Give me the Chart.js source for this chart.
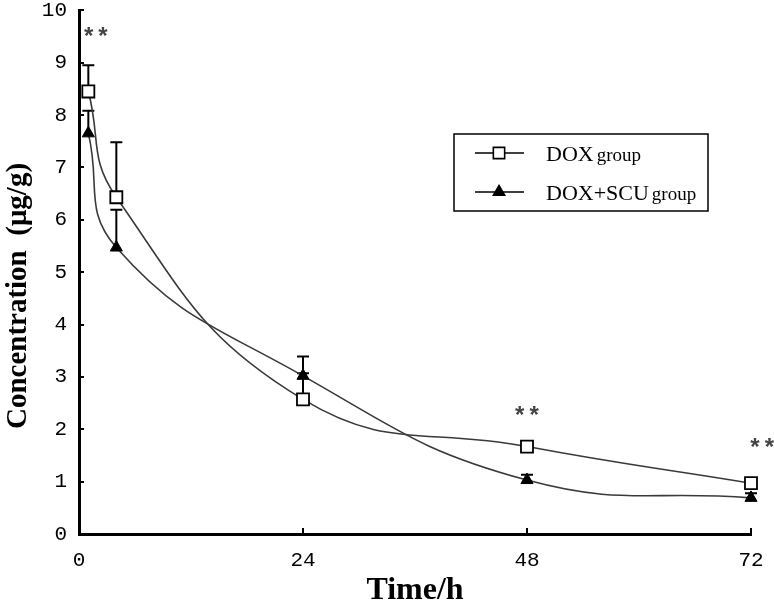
<!DOCTYPE html>
<html>
<head>
<meta charset="utf-8">
<script src="https://cdn.jsdelivr.net/npm/chart.js@4.4.1/dist/chart.umd.min.js"></script>
<style>
  html, body { margin: 0; padding: 0; background: #fff; }
  #wrap { width: 774px; height: 607px; }
</style>
</head>
<body>
<div id="wrap"><canvas id="chart" width="774" height="607"></canvas></div>
<script>
// sampling times (h)
const hours = [1, 4, 24, 48, 72];
// DOX group
const doxMean = [8.45, 6.43, 2.57, 1.67, 0.97];
const doxSD = [0.5, 1.05, 0.5, 0.08, 0.08];
// DOX+SCU group
const scuMean = [7.65, 5.47, 3.02, 1.03, 0.69];
const scuSD = [0.43, 0.72, 0.37, 0.1, 0.09];
// significance marks
const starX = [1.8, 48, 73.2];
const starY = [9.6, 2.35, 1.75];

const xTicks = [0, 24, 48, 72];
const yTicks = [0, 1, 2, 3, 4, 5, 6, 7, 8, 9, 10];
const yTitle = "Concentration  (μg/g)";

const toPoints = (xs, ys) => xs.map((x, i) => ({ x, y: ys[i] }));

const errorBars = {
  id: "errorBars",
  beforeDatasetsDraw(chart) {
    const { ctx, scales: { x, y } } = chart;
    const sets = [doxSD, scuSD];
    ctx.save();
    ctx.strokeStyle = "#000";
    ctx.lineWidth = 2;
    chart.data.datasets.forEach((ds, di) => {
      ds.data.forEach((p, i) => {
        const sd = sets[di][i];
        const px = x.getPixelForValue(p.x);
        const y0 = y.getPixelForValue(p.y);
        const y1 = y.getPixelForValue(p.y + sd);
        ctx.beginPath();
        ctx.moveTo(px, y0);
        ctx.lineTo(px, y1);
        ctx.moveTo(px - 6, y1);
        ctx.lineTo(px + 6, y1);
        ctx.stroke();
      });
    });
    ctx.restore();
  }
};

const extras = {
  id: "extras",
  afterDraw(chart) {
    const { ctx, scales: { x, y } } = chart;
    ctx.save();
    // inward tick marks
    ctx.strokeStyle = "#000";
    ctx.lineWidth = 2;
    yTicks.slice(1).forEach(v => {
      const py = Math.round(y.getPixelForValue(v));
      ctx.beginPath();
      ctx.moveTo(x.left, py);
      ctx.lineTo(x.left + 5, py);
      ctx.stroke();
    });
    xTicks.slice(1).forEach(v => {
      const px = Math.round(x.getPixelForValue(v));
      ctx.beginPath();
      ctx.moveTo(px, y.bottom);
      ctx.lineTo(px, y.bottom - 6);
      ctx.stroke();
    });

    // y axis title (sits a little below the middle in the original)
    ctx.save();
    ctx.translate(19, 296);
    ctx.rotate(-Math.PI / 2);
    ctx.fillStyle = "#000";
    ctx.font = "bold 29px 'Liberation Serif'";
    ctx.textAlign = "center";
    ctx.textBaseline = "middle";
    ctx.fillText(yTitle, 0, 0);
    ctx.restore();

    // ** marks
    ctx.fillStyle = "#444";
    ctx.font = "bold 24px 'Liberation Mono'";
    ctx.textAlign = "center";
    ctx.textBaseline = "alphabetic";
    starX.forEach((sx, i) => {
      const m = ctx.measureText("**");
      const px = x.getPixelForValue(sx);
      const py = y.getPixelForValue(starY[i]);
      const off = (m.actualBoundingBoxAscent - m.actualBoundingBoxDescent) / 2;
      ctx.fillText("**", px, py + off);
    });

    // legend
    const bx = 454, by = 134, bw = 254, bh = 77;
    ctx.strokeStyle = "#000";
    ctx.lineWidth = 1.5;
    ctx.strokeRect(bx, by, bw, bh);
    const rows = [153, 192];
    chart.data.datasets.forEach((ds, i) => {
      const ry = rows[i];
      ctx.strokeStyle = "#000";
      ctx.lineWidth = 1.5;
      ctx.beginPath();
      ctx.moveTo(475, ry);
      ctx.lineTo(524, ry);
      ctx.stroke();
      ctx.fillStyle = ds.pointBackgroundColor;
      ctx.strokeStyle = "#000";
      ctx.lineWidth = 1.6;
      Chart.helpers.drawPoint(ctx, {
        pointStyle: ds.pointStyle,
        radius: i === 0 ? 8 : 6.5,
        rotation: 0,
        borderWidth: 1.6
      }, 499, ry);
      ctx.fillStyle = "#000";
      ctx.textAlign = "left";
      ctx.textBaseline = "alphabetic";
      const parts = ds.label.split(" ");
      ctx.font = "22px 'Liberation Serif'";
      ctx.fillText(parts[0], 546, ry + 8);
      const w = ctx.measureText(parts[0]).width;
      ctx.font = "19px 'Liberation Serif'";
      ctx.fillText(parts[1], 546 + w + 3, ry + 8);
    });
    ctx.restore();
  }
};

new Chart(document.getElementById("chart"), {
  type: "line",
  data: {
    datasets: [
      {
        label: "DOX group",
        data: toPoints(hours, doxMean),
        clip: false,
        borderColor: "#3a3a3a",
        borderWidth: 1.6,
        tension: 0.45,
        pointStyle: "rect",
        pointRadius: 8.5,
        pointBorderWidth: 1.8,
        pointBorderColor: "#000",
        pointBackgroundColor: "#fff"
      },
      {
        label: "DOX+SCU group",
        data: toPoints(hours, scuMean),
        clip: false,
        borderColor: "#3a3a3a",
        borderWidth: 1.6,
        tension: 0.45,
        pointStyle: "triangle",
        pointRadius: 7,
        pointBorderWidth: 1,
        pointBorderColor: "#000",
        pointBackgroundColor: "#000"
      }
    ]
  },
  options: {
    responsive: false,
    animation: false,
    events: [],
    layout: { padding: { top: 10, right: 23, left: 0, bottom: 0 } },
    plugins: { legend: { display: false }, tooltip: { enabled: false } },
    scales: {
      x: {
        type: "linear",
        min: 0,
        max: 72,
        afterBuildTicks: s => { s.ticks = xTicks.map(v => ({ value: v })); },
        afterFit: s => {
          s.height = 73;
          s.paddingLeft = 0;
          s.paddingRight = 0;
        },
        grid: { display: false, drawTicks: false },
        border: { color: "#000", width: 3 },
        ticks: {
          color: "#000",
          padding: 14,
          font: { family: "Liberation Mono", size: 21 }
        },
        title: {
          display: true,
          text: "Time/h",
          color: "#000",
          padding: { top: 0, bottom: 0 },
          font: { family: "Liberation Serif", size: 32, weight: "bold", lineHeight: 1 }
        }
      },
      y: {
        min: 0,
        max: 10,
        afterBuildTicks: s => { s.ticks = yTicks.map(v => ({ value: v })); },
        afterFit: s => {
          s.width = 79;
          s.paddingTop = 0;
          s.paddingBottom = 0;
        },
        grid: { display: false, drawTicks: false },
        border: { color: "#000", width: 3 },
        ticks: {
          color: "#000",
          padding: 12,
          font: { family: "Liberation Mono", size: 21 }
        },
        title: { display: false }
      }
    }
  },
  plugins: [errorBars, extras]
});
</script>
</body>
</html>
